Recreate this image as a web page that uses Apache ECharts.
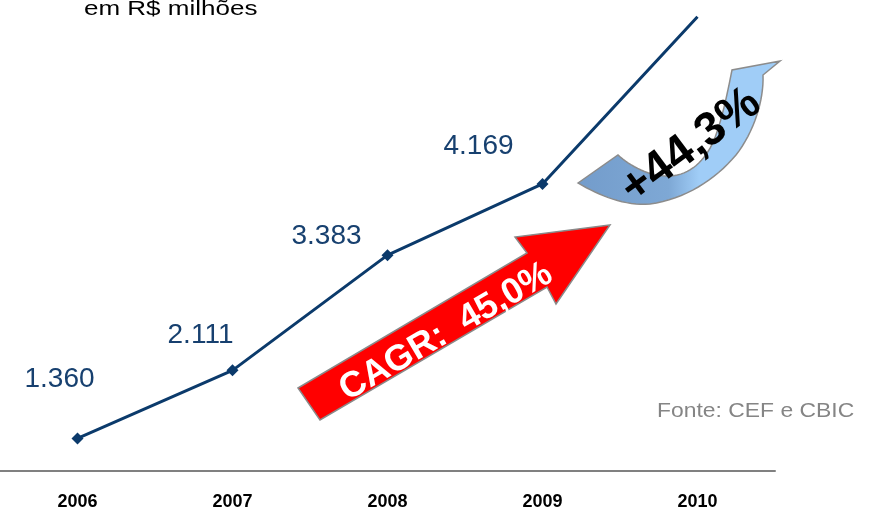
<!DOCTYPE html>
<html>
<head>
<meta charset="utf-8">
<script src="https://cdn.jsdelivr.net/npm/echarts@6/dist/echarts.min.js"></script>
<style>html,body{margin:0;padding:0;background:#fff;}#c{width:869px;height:513px;}</style>
</head>
<body>
<div id="c"></div>
<script>
const categories = ['2006', '2007', '2008', '2009', '2010'];
const values = [1360, 2111, 3383, 4169, 6014];
const unitText = 'em R$ milhões';
const sourceText = 'Fonte: CEF e CBIC';
const cagrText = 'CAGR:  45,0%';
const growthText = '+44,3%';

const labelOffsets = [[-18, -59], [-32, -35], [-61, -19], [-64, -38], [-81, 14]];
const fmt = v => String(v).replace(/\B(?=(\d{3})+(?!\d))/g, '.');

const seriesData = values.map((v, i) => ({
  value: v,
  symbol: i === values.length - 1 ? 'none' : 'diamond',
  label: { offset: labelOffsets[i] }
}));

// curved arrow outline: start point + segments (line: [x,y]; cubic: [c1x,c1y,c2x,c2y,x,y])
const curvedArrowSegs = [
  [618, 155],
  [630, 166, 650, 177, 670, 176],
  [690, 175, 705, 161, 714, 140],
  [722, 120, 727, 95, 732, 70],
  [780, 61],
  [763, 75],
  [764, 100, 754, 132, 736, 155],
  [715, 180, 685, 199, 650, 204],
  [625, 206, 600, 196, 578, 183]
];
function outline(start, segs) {
  const pts = [start.slice()];
  let cur = start;
  segs.forEach(s => {
    if (s.length === 2) { pts.push(s.slice()); cur = s; }
    else {
      for (let k = 1; k <= 16; k++) {
        const t = k / 16, u = 1 - t;
        const x = u*u*u*cur[0] + 3*u*u*t*s[0] + 3*u*t*t*s[2] + t*t*t*s[4];
        const y = u*u*u*cur[1] + 3*u*u*t*s[1] + 3*u*t*t*s[3] + t*t*t*s[5];
        pts.push([x, y]);
      }
      cur = [s[4], s[5]];
    }
  });
  return pts;
}

const chart = echarts.init(document.getElementById('c'));
chart.setOption({
  animation: false,
  backgroundColor: '#ffffff',
  grid: { left: 0, right: 94, top: 0, bottom: 42 },
  xAxis: {
    type: 'category',
    data: categories,
    boundaryGap: true,
    axisLine: { show: true, lineStyle: { color: '#808080', width: 2 } },
    axisTick: { show: false },
    axisLabel: { color: '#000', fontFamily: 'Liberation Sans, Arial', fontWeight: 'bold', fontSize: 18, margin: 22 }
  },
  yAxis: {
    type: 'value', min: 1000, max: 6200, show: false,
    splitLine: { show: false }
  },
  series: [{
    type: 'line',
    data: seriesData,
    symbolSize: 12,
    clip: false,
    lineStyle: { color: '#0B3A6B', width: 3 },
    itemStyle: { color: '#0B3A6B' },
    label: {
      show: true,
      position: 'inside',
      align: 'center',
      verticalAlign: 'middle',
      color: '#17406F',
      fontFamily: 'Liberation Sans, Arial',
      fontSize: 28,
      formatter: p => fmt(p.value)
    }
  }],
  graphic: [
    {
      type: 'text', x: 84, y: 9, scaleX: 1.3,
      style: { text: unitText, fill: '#000', font: '20px "Liberation Sans", Arial', textAlign: 'left', textVerticalAlign: 'middle' }
    },
    {
      type: 'text', x: 657, y: 411, scaleX: 1.09,
      style: { text: sourceText, fill: '#858585', font: '21px "Liberation Sans", Arial', textAlign: 'left', textVerticalAlign: 'middle' }
    },
    {
      type: 'polygon',
      shape: { points: [[298, 388], [527, 253], [515, 237], [610, 225], [556, 304], [547, 287], [320, 420]] },
      style: { fill: '#FF0000', stroke: '#8a8a8a', lineWidth: 1.5 }
    },
    {
      type: 'text', x: 446, y: 332, rotation: 0.53,
      style: { text: cagrText, fill: '#fff', font: 'bold 36px "Liberation Sans", Arial', textAlign: 'center', textVerticalAlign: 'middle' }
    },
    {
      type: 'polygon',
      shape: { points: outline([578, 183], curvedArrowSegs) },
      style: {
        fill: new echarts.graphic.LinearGradient(0, 0, 1, 0, [
          { offset: 0, color: '#739CCB' },
          { offset: 0.45, color: '#7EA8D5' },
          { offset: 0.6, color: '#A0CDF7' },
          { offset: 1, color: '#A0CDF7' }
        ]),
        stroke: '#8c8c8c', lineWidth: 1.5
      }
    },
    {
      type: 'text', x: 691, y: 146, rotation: 0.64,
      style: { text: growthText, fill: '#000', font: 'bold 47px "Liberation Sans", Arial', textAlign: 'center', textVerticalAlign: 'middle' }
    }
  ]
});
</script>
</body>
</html>
